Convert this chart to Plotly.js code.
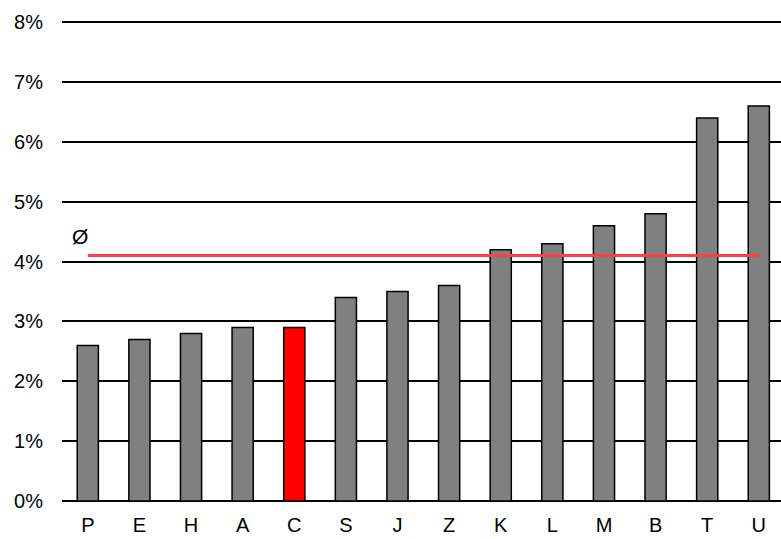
<!DOCTYPE html>
<html>
<head>
<meta charset="utf-8">
<script src="https://cdn.plot.ly/plotly-3.0.1.min.js"></script>
<style>html,body{margin:0;padding:0;background:#fff;}</style>
</head>
<body>
<div id="chart" style="width:781px;height:539px;"></div>
<script>
const categories = ['P','E','H','A','C','S','J','Z','K','L','M','B','T','U'];
const values = [2.6, 2.7, 2.8, 2.9, 2.9, 3.4, 3.5, 3.6, 4.2, 4.3, 4.6, 4.8, 6.4, 6.6];
const yTickVals = [0, 1, 2, 3, 4, 5, 6, 7, 8];
const yTickText = ['0%', '1%', '2%', '3%', '4%', '5%', '6%', '7%', '8%'];
const highlight = 'C';
const average = 4.1;
const avgLabel = 'Ø';

const colors = categories.map(c => c === highlight ? '#ff0000' : '#808080');

const bars = {
  type: 'bar',
  x: categories,
  y: values,
  marker: {color: colors, line: {color: '#000000', width: 1.5}},
  hoverinfo: 'skip'
};
const avgLine = {
  type: 'scatter',
  mode: 'lines',
  x: [categories[0], categories[categories.length - 1]],
  y: [average, average],
  line: {color: '#ff4040', width: 3},
  hoverinfo: 'skip'
};

const layout = {
  width: 781,
  height: 539,
  margin: {l: 62, r: 0, t: 21, b: 38},
  paper_bgcolor: '#ffffff',
  plot_bgcolor: '#ffffff',
  showlegend: false,
  bargap: 0.59,
  font: {family: 'Liberation Sans, Arial, sans-serif', size: 20, color: '#000000'},
  xaxis: {
    type: 'category',
    range: [-0.5, 13.43],
    showgrid: false,
    zeroline: false,
    showline: false,
    ticks: '',
    ticklabelstandoff: 10,
    tickfont: {size: 20, color: '#000000'}
  },
  yaxis: {
    range: [0, 8.02],
    tickmode: 'array',
    tickvals: yTickVals,
    ticktext: yTickText,
    showgrid: true,
    gridcolor: '#000000',
    gridwidth: 2,
    zeroline: true,
    zerolinecolor: '#000000',
    zerolinewidth: 2,
    showline: false,
    ticks: '',
    ticklabelstandoff: 18,
    tickfont: {size: 20, color: '#000000'}
  },
  annotations: [{
    x: -0.15,
    y: average + 0.32,
    xref: 'x',
    yref: 'y',
    text: avgLabel,
    showarrow: false,
    font: {size: 21, color: '#000000'}
  }]
};

Plotly.newPlot('chart', [bars, avgLine], layout, {displayModeBar: false, staticPlot: true});
</script>
</body>
</html>
